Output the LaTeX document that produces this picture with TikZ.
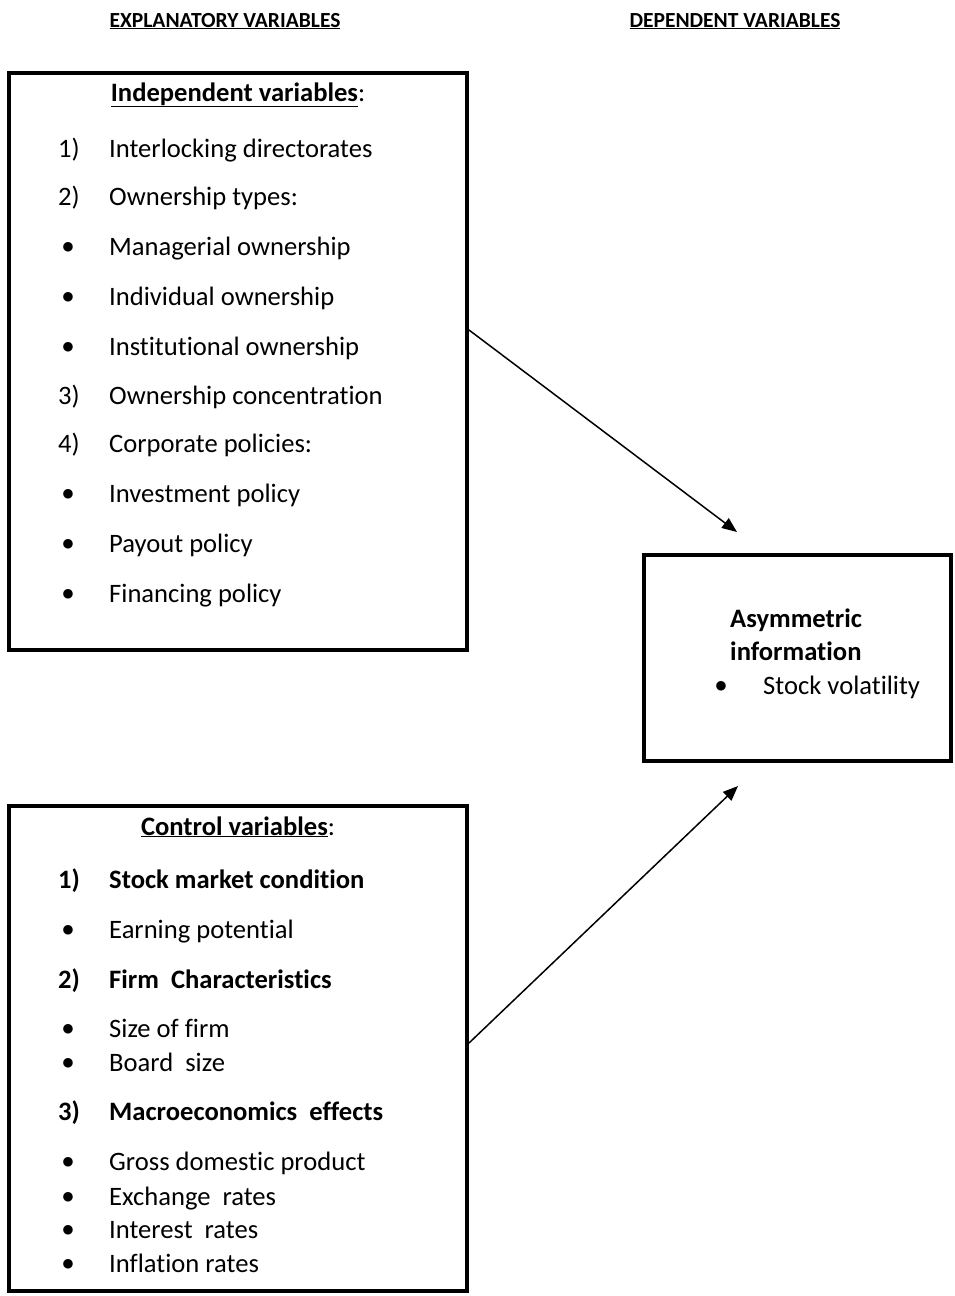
\documentclass[tikz,border=0pt]{standalone}
\usepackage{fontspec}
\setmainfont{Carlito}[Ligatures=NoCommon]
\newfontfamily\symfont{DejaVu Sans}
\usetikzlibrary{arrows.meta}
\newcommand{\bul}{{\symfont\fontsize{12.5}{12.5}\selectfont ●}}
\tikzset{
  box/.style={draw=black, line width=4pt, fill=none, inner sep=0pt},
  txt/.style={anchor=base west, inner sep=0pt, font=\fontsize{26.6}{30}\selectfont},
  btxt/.style={txt, font=\fontsize{26.6}{30}\selectfont\bfseries},
  hdr/.style={anchor=base, inner sep=0pt, font=\fontsize{21.5}{24}\selectfont\bfseries},
  ttl/.style={anchor=base, inner sep=0pt, font=\fontsize{26.6}{30}\selectfont},
  bulletmark/.style={anchor=center, inner sep=0pt},
  arr/.style={line width=1.5pt, -{Triangle[length=15pt,width=12pt]}}
}
\begin{document}
\begin{tikzpicture}[x=1pt,y=-1pt]
\useasboundingbox (0,0) rectangle (954,1296);
% headers
\node[hdr] (h1) at (225,27) {\underline{EXPLANATORY VARIABLES}};
\node[hdr] (h2) at (735,27) {\underline{DEPENDENT VARIABLES}};
% boxes
\node[box, minimum width=458pt, minimum height=577pt] (indep) at (238,361.5) {};
\node[box, minimum width=307pt, minimum height=206pt] (dep) at (797.5,658) {};
\node[box, minimum width=458pt, minimum height=485pt] (ctrl) at (238,1048.5) {};
% independent box text
\node[ttl] (t1) at (238,101) {{\bfseries\underline{Independent variables}}:};
\node[txt] (n1) at (58,157) {1)};
\node[txt] (i1) at (109,157) {Interlocking directorates};
\node[txt] (n2) at (58,205) {2)};
\node[txt] (i2) at (109,205) {Ownership types:};
\node[bulletmark] (b1) at (68,247) {\bul};
\node[txt] (i3) at (109,255) {Managerial ownership};
\node[bulletmark] (b2) at (68,297) {\bul};
\node[txt] (i4) at (109,305) {Individual ownership};
\node[bulletmark] (b3) at (68,347) {\bul};
\node[txt] (i5) at (109,355) {Institutional ownership};
\node[txt] (n3) at (58,404) {3)};
\node[txt] (i6) at (109,404) {Ownership concentration};
\node[txt] (n4) at (58,452) {4)};
\node[txt] (i7) at (109,452) {Corporate policies:};
\node[bulletmark] (b4) at (68,494) {\bul};
\node[txt] (i8) at (109,502) {Investment policy};
\node[bulletmark] (b5) at (68,544) {\bul};
\node[txt] (i9) at (109,552) {Payout policy};
\node[bulletmark] (b6) at (68,594) {\bul};
\node[txt] (i10) at (109,602) {Financing policy};
% dependent box text
\node[btxt] (d1) at (730,627) {Asymmetric};
\node[btxt] (d2) at (730,660) {information};
\node[bulletmark] (db) at (721,686) {\bul};
\node[txt] (d3) at (763,694) {Stock volatility};
% control box text
\node[ttl] (t2) at (238,835) {{\bfseries\underline{Control variables}}:};
\node[btxt] (m1) at (58,888) {1)};
\node[btxt] (c1) at (109,888) {Stock market condition};
\node[bulletmark] (cb1) at (68,930) {\bul};
\node[txt] (c2) at (109,938) {Earning potential};
\node[btxt] (m2) at (58,988) {2)};
\node[btxt] (c3) at (109,988) {Firm\ \ Characteristics};
\node[bulletmark] (cb2) at (68,1029) {\bul};
\node[txt] (c4) at (109,1037) {Size of firm};
\node[bulletmark] (cb3) at (68,1063) {\bul};
\node[txt] (c5) at (109,1071) {Board\ \ size};
\node[btxt] (m3) at (58,1120) {3)};
\node[btxt] (c6) at (109,1120) {Macroeconomics\ \ effects};
\node[bulletmark] (cb4) at (68,1162) {\bul};
\node[txt] (c7) at (109,1170) {Gross domestic product};
\node[bulletmark] (cb5) at (68,1197) {\bul};
\node[txt] (c8) at (109,1205) {Exchange\ \ rates};
\node[bulletmark] (cb6) at (68,1230) {\bul};
\node[txt] (c9) at (109,1238) {Interest\ \ rates};
\node[bulletmark] (cb7) at (68,1264) {\bul};
\node[txt] (c10) at (109,1272) {Inflation rates};
% arrows
\coordinate (s1) at ([yshift=31.5pt]indep.east);
\coordinate (e1) at ([xshift=-60.5pt,yshift=21pt]dep.north);
\coordinate (s2) at ([yshift=5.5pt]ctrl.east);
\coordinate (e2) at ([xshift=-59.5pt,yshift=-23pt]dep.south);
\draw[arr] (s1) -- (e1);
\draw[arr] (s2) -- (e2);
\end{tikzpicture}
\end{document}
